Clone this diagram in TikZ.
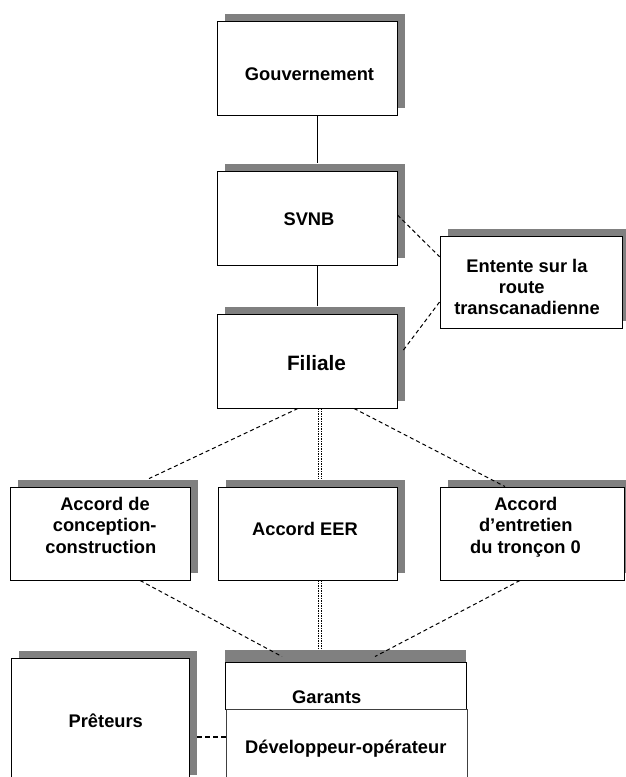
\documentclass[tikz,border=0pt]{standalone}
\usepackage{fontspec}
\setmainfont{Liberation Sans}
\usetikzlibrary{calc,shadows}
\definecolor{shgray}{RGB}{128,128,128}
\tikzset{
  box/.style={draw=black, fill=white, line width=0.9pt, rectangle, inner sep=0pt},
  shbox/.style={box, general shadow={fill=shgray, shadow xshift=7.5pt, shadow yshift=7.5pt}},
  lbl/.style={anchor=base, inner sep=0pt, font=\bfseries\fontsize{18.3}{21}\selectfont},
  con/.style={line width=1pt, draw=black},
  dashcon/.style={con, dash pattern=on 4pt off 3pt},
  dblcon/.style={line width=0.7pt, draw=black, dash pattern=on 1.5pt off 1pt},
}
\begin{document}
\begin{tikzpicture}[x=1pt,y=-1pt]
\clip (0,0) rectangle (626,777);
\fill[white] (0,0) rectangle (626,777);

% boxes
\node[shbox, minimum width=180pt, minimum height=94pt] (gouv) at (307,68) {};
\node[shbox, minimum width=180pt, minimum height=94pt] (svnb) at (307,218) {};
\node[shbox, minimum width=180pt, minimum height=94pt] (fil) at (307,361) {};
\node[shbox, minimum width=182pt, minimum height=92pt] (ent) at (531,282) {};
\node[shbox, minimum width=180pt, minimum height=93pt] (acc1) at (100,533.5) {};
\node[shbox, minimum width=179pt, minimum height=93pt] (acc2) at (307.5,533.5) {};
\node[shbox, minimum width=184pt, minimum height=93pt] (acc3) at (532,533.5) {};
\node[shbox, minimum width=178pt, minimum height=124pt] (pret) at (100,720) {};
\node[box, general shadow={fill=shgray, shadow xshift=0pt, shadow yshift=12pt},
      minimum width=241pt, minimum height=47pt] (gar) at (345.5,685.5) {};
\node[box, draw=black!75, minimum width=241pt, minimum height=73pt] (dev) at (346.5,745.5) {};

% connectors
\draw[con] ($(gouv.south)+(10,0)$) -- ($(svnb.north)+(10,-7.5)$);
\draw[con] ($(svnb.south)+(10,0)$) -- ($(fil.north)+(10,-7.5)$);
\draw[dashcon] ($(svnb.east)+(0,-3)$) -- ($(ent.west)+(0,-25.3)$);
\draw[dashcon] ($(fil.east)+(6,-11)$) -- ($(ent.west)+(0,20)$);
\draw[dashcon] ($(fil.south)+(-9,0)$) -- ($(acc1.north)+(49,-8)$);
\draw[dashcon] ($(fil.south)+(47,0)$) -- ($(acc3.north)+(-27,0)$);
\draw[dblcon] ($(fil.south)+(11.5,0)$) -- ($(acc2.north)+(11,-8)$);
\draw[dblcon] ($(fil.south)+(14.5,0)$) -- ($(acc2.north)+(14,-8)$);
\draw[dashcon] ($(acc1.south)+(40,0)$) -- ($(gar.north)+(-63.5,-5)$);
\draw[dashcon] ($(acc3.south)+(-12,0)$) -- ($(gar.north)+(29.5,-5)$);
\draw[dblcon] ($(acc2.south)+(11,0)$) -- ($(gar.north)+(-27,-12)$);
\draw[dblcon] ($(acc2.south)+(14,0)$) -- ($(gar.north)+(-24,-12)$);
\draw[con, line width=1.6pt, dash pattern=on 5pt off 3pt] ($(pret.east)+(8,17)$) -- ($(dev.west)+(0,-8.5)$);

% texts
\node[lbl] (tgouv) at (309.5,80) {Gouvernement};
\node[lbl] (tsvnb) at (309,225) {SVNB};
\node[lbl, font=\bfseries\fontsize{20.8}{24}\selectfont] (tfil) at (316.5,370.5) {Filiale};
\node[lbl] (tent1) at (527,272) {Entente sur la};
\node[lbl] (tent2) at (521.7,293.3) {route};
\node[lbl] (tent3) at (527,314) {transcanadienne};
\node[lbl] (tacc1a) at (105,510.5) {Accord de};
\node[lbl] (tacc1b) at (104.7,531.5) {conception-};
\node[lbl] (tacc1c) at (100.8,553) {construction};
\node[lbl] (tacc2) at (305,535) {Accord EER};
\node[lbl] (tacc3a) at (525.8,510.5) {Accord};
\node[lbl] (tacc3b) at (525.8,531.5) {d’entretien};
\node[lbl] (tacc3c) at (525.5,553) {du tronçon 0};
\node[lbl] (tpret) at (105.8,727.5) {Prêteurs};
\node[lbl] (tgar) at (326.8,703.5) {Garants};
\node[lbl] (tdev) at (345.8,753) {Développeur-opérateur};
\end{tikzpicture}
\end{document}
